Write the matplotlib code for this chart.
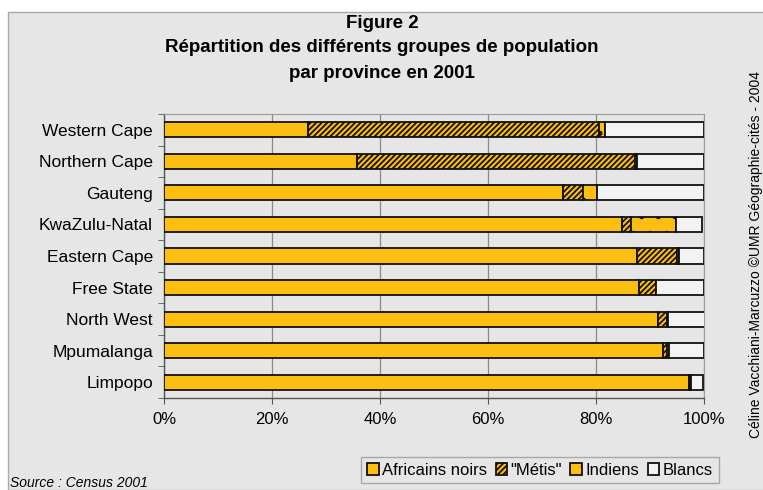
import matplotlib.pyplot as plt
from matplotlib.patches import Rectangle
import numpy as np

# population groups by province, 2001 (percent), top to bottom
provinces = ['Western Cape', 'Northern Cape', 'Gauteng', 'KwaZulu-Natal', 'Eastern Cape',
             'Free State', 'North West', 'Mpumalanga', 'Limpopo']
africains = [26.7, 35.7, 73.8, 84.9, 87.6, 88.0, 91.5, 92.4, 97.2]
metis = [53.9, 51.6, 3.8, 1.5, 7.4, 3.1, 1.6, 0.7, 0.2]
indiens = [1.0, 0.3, 2.5, 8.5, 0.3, 0.1, 0.3, 0.4, 0.1]
blancs = [18.4, 12.4, 19.9, 4.7, 4.7, 8.8, 6.7, 6.5, 2.4]
groups = ['Africains noirs', '"Métis"', 'Indiens', 'Blancs']

plt.rcParams['font.family'] = ['Liberation Sans', 'DejaVu Sans']
plt.rcParams['hatch.linewidth'] = 1.3

yellow = '#fcbf10'
bg = '#e6e6e6'

fig = plt.figure(figsize=(7.63, 4.9), dpi=100)
fig.patch.set_facecolor('white')
# grey panel behind everything
fig.patches.append(Rectangle((8/763, 0), 1, 1 - 12/490, transform=fig.transFigure,
                             facecolor=bg, edgecolor='#aaaaaa', lw=1.0, zorder=-10))

ax = fig.add_axes([164/763, 1 - 398/490, 540/763, 284/490])
ax.set_facecolor(bg)

y = np.arange(len(provinces))
h = 0.48
left = np.zeros(len(provinces))
styles = [dict(color=yellow, hatch=None), dict(color=yellow, hatch='//////'),
          dict(color=yellow, hatch='.'), dict(color='#f3f3f3', hatch=None)]
for vals, lab, st in zip([africains, metis, indiens, blancs], groups, styles):
    ax.barh(y, vals, left=left, height=h, color=st['color'], hatch=st['hatch'],
            edgecolor='#111111', linewidth=1.3, label=lab, zorder=3)
    left += np.array(vals)

ax.set_xlim(0, 100)
ax.set_ylim(len(provinces) - 0.5, -0.5)
ax.set_xticks(range(0, 101, 20))
ax.set_xticklabels([f'{v}%' for v in range(0, 101, 20)], fontsize=12)
ax.set_yticks(y)
ax.set_yticklabels(provinces, fontsize=12.5)
ax.set_yticks(np.arange(-0.5, len(provinces), 1), minor=True)
ax.tick_params(axis='y', which='major', length=0, pad=8)
ax.tick_params(axis='y', which='minor', length=4, color='#555555', direction='out')
ax.tick_params(axis='x', length=4, color='#555555', pad=6)
ax.grid(axis='x', color='#8a8a8a', lw=0.9, zorder=0)
for s in ['left', 'bottom']:
    ax.spines[s].set_color('#555555')
    ax.spines[s].set_linewidth(1.0)
for s in ['top', 'right']:
    ax.spines[s].set_color('#9a9a9a')
    ax.spines[s].set_linewidth(0.8)

fig.text(382/763, 1 - 23/490, 'Figure 2', ha='center', va='center', fontsize=13.5, fontweight='bold')
fig.text(382/763, 1 - 48/490, 'Répartition des différents groupes de population',
         ha='center', va='center', fontsize=13.5, fontweight='bold')
fig.text(382/763, 1 - 73/490, 'par province en 2001', ha='center', va='center',
         fontsize=13.5, fontweight='bold')

fig.text(10/763, 1 - 483/490, 'Source : Census 2001', ha='left', va='center',
         fontsize=10, style='italic')
fig.text(756/763, 1 - 255/490, 'Céline Vacchiani-Marcuzzo ©UMR Géographie-cités - 2004',
         rotation=90, ha='center', va='center', fontsize=10)

leg = ax.legend(loc='center', bbox_to_anchor=(540/763, 1 - 470/490), bbox_transform=fig.transFigure,
                ncol=4, fontsize=12, frameon=True, fancybox=False, handlelength=0.7,
                handleheight=0.7, handletextpad=0.2, columnspacing=0.5, borderpad=0.35)
leg.get_frame().set_facecolor(bg)
leg.get_frame().set_edgecolor('#999999')

fig.savefig('out.png', dpi=100, facecolor=fig.get_facecolor())
